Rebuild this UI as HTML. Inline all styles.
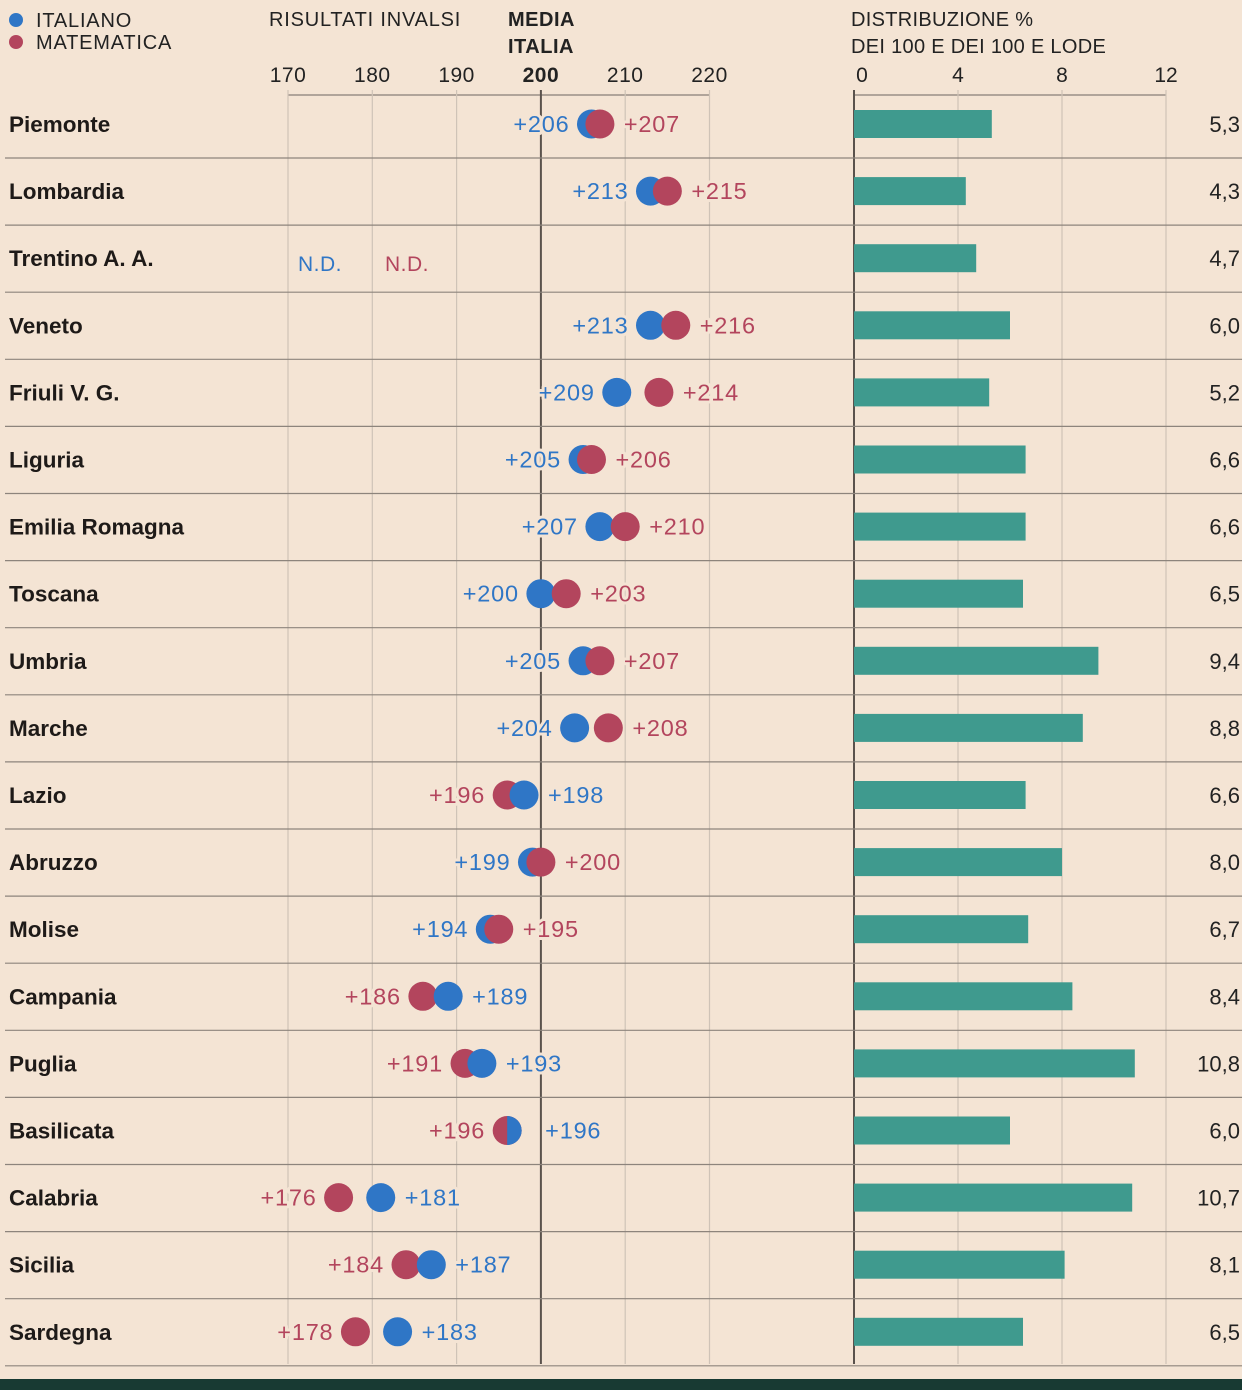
<!DOCTYPE html>
<html><head><meta charset="utf-8">
<style>
html,body{margin:0;padding:0;background:#f4e4d4;}
svg{display:block;font-family:"Liberation Sans","DejaVu Sans",sans-serif;}
.halo{paint-order:stroke;stroke:#f4e4d4;stroke-width:6px;stroke-linejoin:round;}
</style></head>
<body>
<svg id="chart" width="1242" height="1390" viewBox="0 0 1242 1390">
<rect x="0" y="0" width="1242" height="1390" fill="#f4e4d4"/>
<g>
<circle cx="16" cy="20" r="7" fill="#2f76c6"/>
<text x="36" y="27" font-size="20" letter-spacing="0.8" fill="#222">ITALIANO</text>
<circle cx="16" cy="42" r="7" fill="#b3455d"/>
<text x="36" y="49" font-size="20" letter-spacing="0.8" fill="#222">MATEMATICA</text>
</g>
<text x="269" y="26" font-size="20" letter-spacing="0.8" fill="#222">RISULTATI INVALSI</text>
<text x="508" y="26" font-size="20" font-weight="bold" letter-spacing="0.5" fill="#222">MEDIA</text>
<text x="508" y="53" font-size="20" font-weight="bold" letter-spacing="0.5" fill="#222">ITALIA</text>
<text x="851" y="26" font-size="20" letter-spacing="0.3" fill="#222">DISTRIBUZIONE %</text>
<text x="851" y="53" font-size="20" letter-spacing="0.3" fill="#222">DEI 100 E DEI 100 E LODE</text>
<g id="grid"></g>
<g id="rows"></g>
<rect x="0" y="1379" width="1242" height="11" fill="#183a33"/>
</svg>
<script>
const regions=["Piemonte","Lombardia","Trentino A. A.","Veneto","Friuli V. G.","Liguria","Emilia Romagna","Toscana","Umbria","Marche","Lazio","Abruzzo","Molise","Campania","Puglia","Basilicata","Calabria","Sicilia","Sardegna"];
const italiano=[206,213,null,213,209,205,207,200,205,204,198,199,194,189,193,196,181,187,183];
const matematica=[207,215,null,216,214,206,210,203,207,208,196,200,195,186,191,196,176,184,178];
const share=[5.3,4.3,4.7,6.0,5.2,6.6,6.6,6.5,9.4,8.8,6.6,8.0,6.7,8.4,10.8,6.0,10.7,8.1,6.5];
const scoreTicks=[170,180,190,200,210,220];
const shareTicks=[0,4,8,12];

const NS="http://www.w3.org/2000/svg";
const BLUE="#2f76c6",RED="#b3455d",TEAL="#3f9a8e";
const xs=v=>288+(v-170)*8.43;
const xb=v=>854+v*26;
const rowY=i=>124+i*67.1;
function mk(tag,attrs,parent,txt){const e=document.createElementNS(NS,tag);for(const k in attrs)e.setAttribute(k,attrs[k]);if(txt!=null)e.textContent=txt;parent.appendChild(e);return e;}
const grid=document.getElementById('grid'),rows=document.getElementById('rows');
const bottom=1364;
let ax=mk('line',{x1:xs(170),x2:xs(220),y1:95,y2:95,stroke:'#9a8f86','stroke-width':1.5},grid);

scoreTicks.forEach(t=>{
  const l=mk('line',{x1:xs(t),x2:xs(t),y1:90,y2:bottom,stroke:t===200?'#5a524c':'#cfc3b7','stroke-width':t===200?2:1.2},grid);
  
  
  const tx=mk('text',{x:xs(t),y:82,'font-size':21,'letter-spacing':0.5,'text-anchor':'middle',fill:'#222','font-weight':t===200?'bold':'normal'},grid,String(t));
  
  
});
let bx=mk('line',{x1:xb(0),x2:xb(12),y1:95,y2:95,stroke:'#9a8f86','stroke-width':1.5},grid);

shareTicks.forEach(t=>{
  const l=mk('line',{x1:xb(t),x2:xb(t),y1:90,y2:bottom,stroke:t===0?'#5a524c':'#cfc3b7','stroke-width':t===0?2:1.2},grid);
  
  
  const tx=mk('text',{x:xb(t)+(t===0?8:0),y:82,'font-size':21,'text-anchor':'middle',fill:'#222'},grid,String(t));
  
  
});
regions.forEach((r,i)=>{
  const y=rowY(i);
  const g=mk('g',{},rows);
  
  
  const sep=mk('line',{x1:5,x2:1242,y1:y+34,y2:y+34,stroke:'#8d847c','stroke-width':1.2},g);
  
  
  const lab=mk('text',{x:9,y:y+8,'font-size':22.5,'font-weight':'bold',fill:'#1e1a18'},g,r);
  
  
  const bar=mk('rect',{x:xb(0),y:y-14,width:xb(share[i])-xb(0),height:28,fill:TEAL},g);
  
  
  const sv=mk('text',{x:1240,y:y+8,'font-size':22,'text-anchor':'end',fill:'#222'},g,share[i].toFixed(1).replace('.',','));
  
  
  const it=italiano[i],ma=matematica[i];
  if(it==null){
    const n1=mk('text',{x:298,y:y+13,'font-size':21,'letter-spacing':0.5,fill:BLUE},g,'N.D.');
    
    
    const n2=mk('text',{x:385,y:y+13,'font-size':21,'letter-spacing':0.5,fill:RED},g,'N.D.');
    
    
    return;
  }
  const pts=[{v:it,c:BLUE,n:'italiano'},{v:ma,c:RED,n:'matematica'}];
  let lo,hi;
  if(it===ma){lo=pts[1];hi=pts[0];}
  else if(it<ma){lo=pts[0];hi=pts[1];}else{lo=pts[1];hi=pts[0];}
  const t1=mk('text',{class:'halo',x:xs(lo.v)-22,y:y+8,'font-size':23.5,'letter-spacing':0.8,'text-anchor':'end',fill:lo.c},g,'+'+lo.v);
  
  
  const t2=mk('text',{class:'halo',x:xs(hi.v)+(it===ma?38:24),y:y+8,'font-size':23.5,'letter-spacing':0.8,fill:hi.c},g,'+'+hi.v);
  
  
  const c1=mk('circle',{cx:xs(lo.v),cy:y,r:14.5,fill:lo.c},g);
  
  
  let c2;
  if(it===ma){
    const cx=xs(hi.v);
    c2=mk('path',{d:`M${cx},${y-14.5} A14.5,14.5 0 0 1 ${cx},${y+14.5} Z`,fill:hi.c},g);
  } else c2=mk('circle',{cx:xs(hi.v),cy:y,r:14.5,fill:hi.c},g);
  
  
});
</script>
</body></html>
